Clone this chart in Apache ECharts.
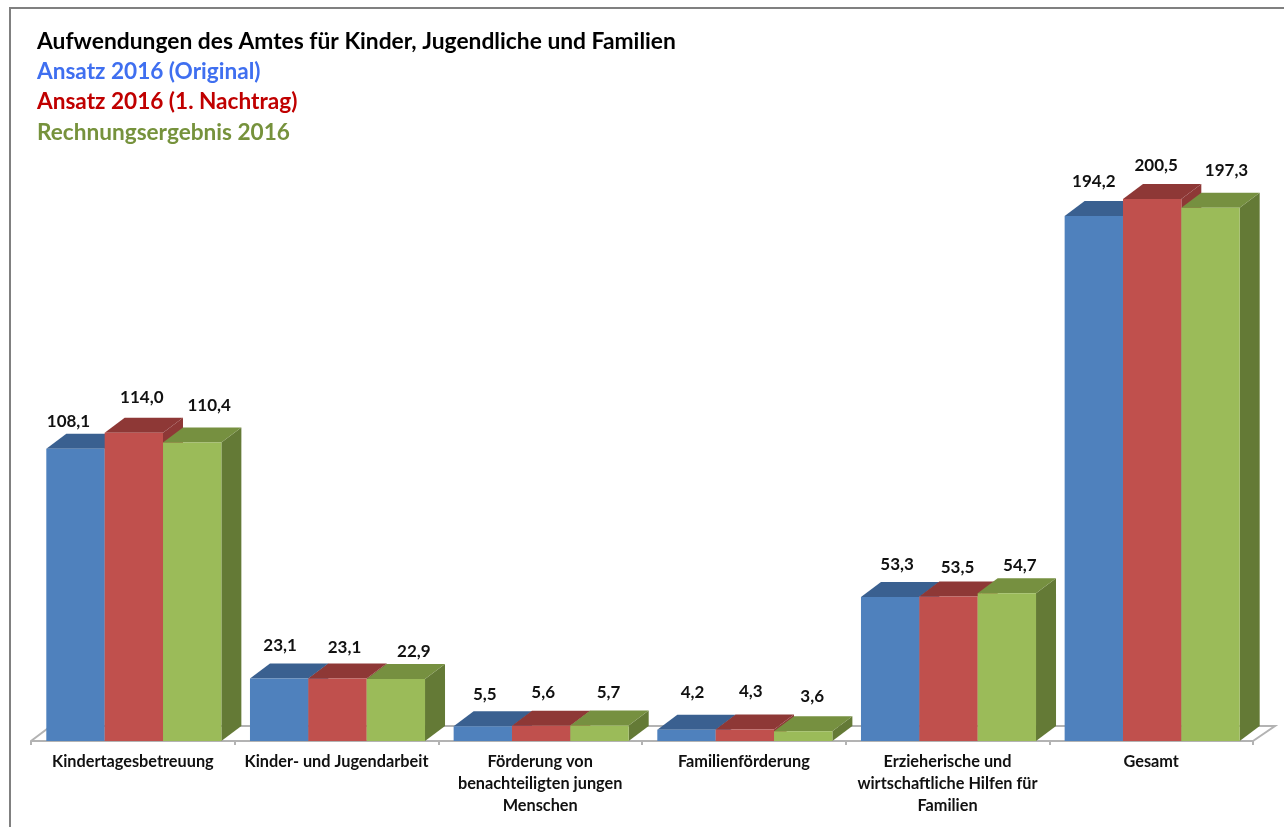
<!DOCTYPE html>
<html>
<head>
<meta charset="utf-8">
<style>html,body{margin:0;padding:0;background:#fff}#c{width:1284px;height:827px;filter:blur(0.45px)}</style>
<script src="https://cdn.jsdelivr.net/npm/echarts@6/dist/echarts.min.js"></script>
</head>
<body>
<div id="c"></div>
<script>
const titleText = 'Aufwendungen des Amtes für Kinder, Jugendliche und Familien';
const categories = ['Kindertagesbetreuung', 'Kinder- und Jugendarbeit', 'Förderung von\nbenachteiligten jungen\nMenschen', 'Familienförderung', 'Erzieherische und\nwirtschaftliche Hilfen für\nFamilien', 'Gesamt'];
const seriesNames = ['Ansatz 2016 (Original)', 'Ansatz 2016 (1. Nachtrag)', 'Rechnungsergebnis 2016'];
const original = [108.1, 23.1, 5.5, 4.2, 53.3, 194.2];
const nachtrag = [114.0, 23.1, 5.6, 4.3, 53.5, 200.5];
const ergebnis = [110.4, 22.9, 5.7, 3.6, 54.7, 197.3];
const seriesValues = [original, nachtrag, ergebnis];

// Appearance
const FONT = 'Lato';
const legendColors = ['#3f6ff0', '#c00000', '#76923c'];
const frontColors = ['#4f81bd', '#c0504d', '#9bbb59'];
const topColors = ['#3a6090', '#8e3836', '#769040'];
const sideColors = ['#3a6090', '#8e3836', '#647a36'];
const GREY = '#b3b3b3';
const DEPTH_X = 20, DEPTH_Y = 15;
const BAR_SHARE = 0.2865;
const BAR_SHIFT = 1;
// Hand-placed label offsets from each bar's top centre, by series then category
const labelOffsets = [
  [[-6,-27],[2,-33],[3,-32],[7,-37],[8,-32],[1,-35]],
  [[9,-35],[8,-31],[3,-33],[7,-38],[10,-29],[5,-34]],
  [[18,-37],[19,-28],[10,-33],[10,-35],[14,-28],[17,-37]]
];

function fmt(v) { return v.toFixed(1).replace('.', ','); }

function renderBar(params, api) {
  const s = params.seriesIndex - 1;
  const i = api.value(0), v = api.value(1);
  const band = api.size([1, 0])[0];
  const w = band * BAR_SHARE;
  const top = api.coord([i, v]);
  const base = api.coord([i, 0]);
  const cx = top[0] + (s - 1) * w + BAR_SHIFT;
  const x0 = cx - w / 2, x1 = cx + w / 2, yT = top[1], yB = base[1];
  const off = labelOffsets[s][i];
  return {
    type: 'group',
    children: [
      { type: 'polygon', shape: { points: [[x1, yT], [x1 + DEPTH_X, yT - DEPTH_Y], [x1 + DEPTH_X, yB - DEPTH_Y], [x1, yB]] }, style: { fill: sideColors[s] } },
      { type: 'polygon', shape: { points: [[x0, yT], [x0 + DEPTH_X, yT - DEPTH_Y], [x1 + DEPTH_X, yT - DEPTH_Y], [x1, yT]] }, style: { fill: topColors[s] } },
      { type: 'rect', shape: { x: x0, y: yT, width: w, height: yB - yT }, style: { fill: frontColors[s] } },
      { type: 'text', style: { text: fmt(v), x: cx + off[0] - BAR_SHIFT, y: yT + off[1], align: 'center', verticalAlign: 'middle', fontFamily: FONT, fontWeight: 'bold', fontSize: 17, fill: '#111' } }
    ]
  };
}

function renderFloor(params, api) {
  const band = api.size([1, 0])[0];
  const a = api.coord([0, 0]), b = api.coord([categories.length - 1, 0]);
  const xL = a[0] - band / 2, xR = b[0] + band / 2, y = a[1];
  const st = { stroke: GREY, lineWidth: 2, fill: null };
  return {
    type: 'polyline',
    shape: { points: [[xL, y], [xL + DEPTH_X, y - DEPTH_Y], [xR + DEPTH_X + 2, y - DEPTH_Y], [xR, y]] },
    style: st
  };
}

const chart = echarts.init(document.getElementById('c'));
chart.setOption({
  animation: false,
  backgroundColor: '#ffffff',
  title: {
    text: titleText, left: 32, top: 25,
    textStyle: { fontFamily: FONT, fontWeight: 'bold', fontSize: 22.8, color: '#000' }
  },
  legend: {
    orient: 'vertical', left: 32, top: 60, itemWidth: 0, itemHeight: 0, itemGap: 7.5, selectedMode: false, padding: 0,
    data: seriesNames.map((n, k) => ({ name: n, icon: 'rect', textStyle: { color: legendColors[k], fontFamily: FONT, fontWeight: 'bold', fontSize: 22.6 } }))
  },
  grid: { left: 31, right: 31, top: 65.25, bottom: 86 },
  xAxis: {
    type: 'category', data: categories,
    axisLine: { lineStyle: { color: GREY, width: 2 } },
    axisTick: { show: true, length: 4, lineStyle: { color: GREY, width: 2 } },
    axisLabel: { interval: 0, margin: 10, lineHeight: 22, fontFamily: FONT, fontWeight: 'bold', fontSize: 16.3, color: '#111' }
  },
  yAxis: { type: 'value', min: 0, max: 250, show: false, splitLine: { show: false } },
  series: [
    { type: 'custom', name: 'Boden', clip: false, renderItem: renderFloor, data: [[0, 0]], encode: { x: 0, y: 1 }, silent: true }
  ].concat(seriesNames.map((n, k) => ({
    type: 'custom', name: n, clip: false, renderItem: renderBar,
    itemStyle: { color: frontColors[k] },
    data: seriesValues[k].map((v, i) => [i, v]), encode: { x: 0, y: 1 }
  }))),
  graphic: [
    { type: 'polyline', silent: true, shape: { points: [[10, 827], [10, 8], [1284, 8]] }, style: { stroke: '#808080', lineWidth: 2, fill: null } }
  ]
});
</script>
</body>
</html>
